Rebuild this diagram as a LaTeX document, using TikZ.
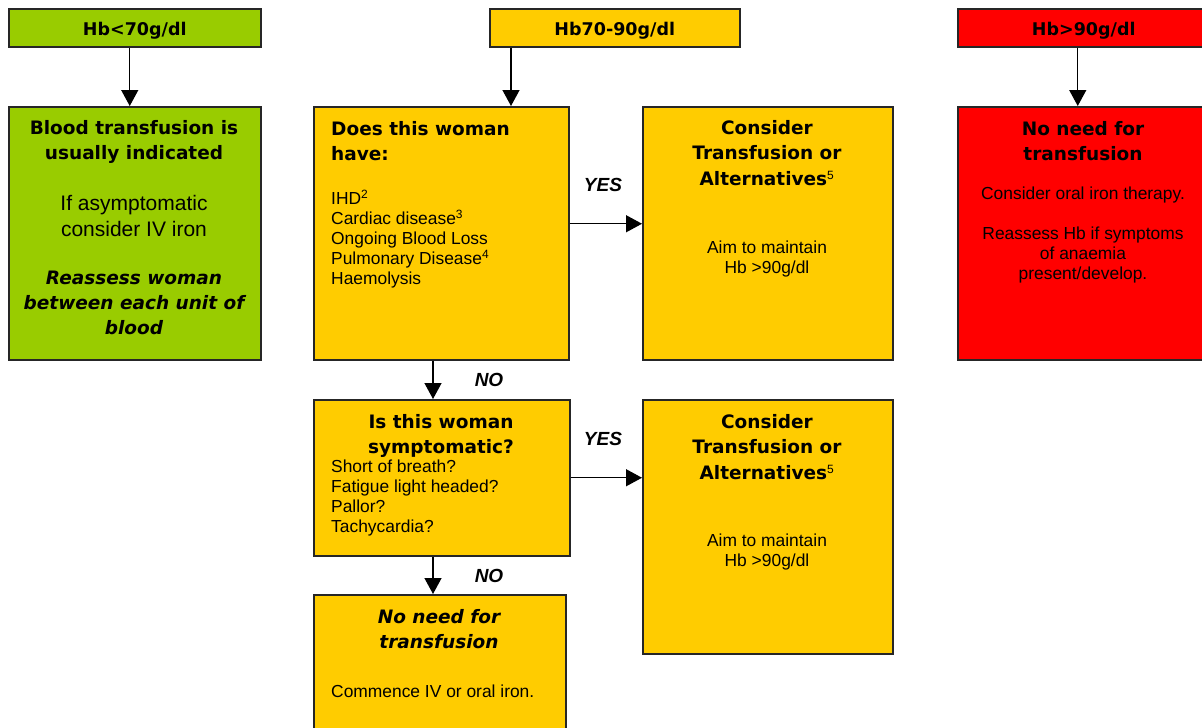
\documentclass[tikz,border=0pt]{standalone}
\usepackage{fontspec}
\setmainfont{Liberation Sans}
\newfontfamily\dvs{DejaVu Sans}
\usetikzlibrary{arrows.meta}
\definecolor{grn}{HTML}{99CC00}
\definecolor{yel}{HTML}{FFCC00}
\definecolor{rd}{HTML}{FF0000}
\newcommand\fnmark[1]{\textsuperscript{\normalfont\fontsize{12}{12}\selectfont #1}}
\tikzset{
  box/.style={draw=black!85, line width=1.5pt, anchor=north west, inner sep=0pt},
  arr/.style={line width=1.3pt, -{Triangle[width=17pt,length=16pt]}},
  hfont/.style={font=\dvs\bfseries\fontsize{17.5}{21}\selectfont},
  tfont/.style={font=\dvs\bfseries\fontsize{18.5}{25.5}\selectfont, align=center, inner sep=0pt},
  tlfont/.style={font=\dvs\bfseries\fontsize{18.5}{25.5}\selectfont, align=left, inner sep=0pt},
  tifont/.style={font=\dvs\bfseries\itshape\fontsize{18.5}{25}\selectfont, align=center, inner sep=0pt},
  sfont/.style={font=\fontsize{17.4}{20}\selectfont, align=left, inner sep=0pt},
  scfont/.style={font=\fontsize{17.4}{20}\selectfont, align=center, inner sep=0pt},
  gfont/.style={font=\fontsize{21}{26}\selectfont, align=center, inner sep=0pt},
  lab/.style={font=\bfseries\itshape\fontsize{19}{22}\selectfont, inner sep=0pt},
}
\begin{document}
\begin{tikzpicture}[x=1pt,y=-1pt]
\useasboundingbox (0,0) rectangle (1202,728);
\clip (0,0) rectangle (1202,728);
% header boxes
\node[box, fill=grn, minimum width=252pt, minimum height=38pt] (h1) at (8,8) {};
\node[box, fill=yel, minimum width=250pt, minimum height=38pt] (h2) at (489,8) {};
\node[box, fill=rd, minimum width=252pt, minimum height=38pt] (h3) at (957,8) {};
\node[hfont] (h1t) at ([yshift=-3pt]h1.center) {Hb<70g/dl};
\node[hfont] (h2t) at ([yshift=-3pt]h2.center) {Hb70-90g/dl};
\node[hfont] (h3t) at ([yshift=-3pt]h3.center) {Hb>90g/dl};
% main boxes
\node[box, fill=grn, minimum width=252pt, minimum height=253pt] (g) at (8,106) {};
\node[box, fill=yel, minimum width=255pt, minimum height=253pt] (A) at (313,106) {};
\node[box, fill=yel, minimum width=250pt, minimum height=253pt] (B) at (642,106) {};
\node[box, fill=rd, minimum width=252pt, minimum height=253pt] (R) at (957,106) {};
\node[box, fill=yel, minimum width=256pt, minimum height=156pt] (C) at (313,399) {};
\node[box, fill=yel, minimum width=250pt, minimum height=254pt] (D) at (642,399) {};
\node[box, fill=yel, minimum width=252pt, minimum height=150pt] (E) at (313,594) {};
% green box text
\node[tfont] (gt) at (134,142) {Blood transfusion is\\usually indicated};
\node[gfont] (gb) at (134,216) {If asymptomatic\\consider IV iron};
\node[tifont] (gi) at (134,303) {Reassess woman\\between each unit of\\blood};
% box A
\node[tlfont, anchor=west] (At) at (331,141) {Does this woman\\have:};
\node[sfont, anchor=north west] (Al) at (331,190) {IHD\fnmark{2}\\Cardiac disease\fnmark{3}\\Ongoing Blood Loss\\Pulmonary Disease\fnmark{4}\\Haemolysis};
% box B
\node[tfont] (Bt) at (767,153) {Consider\\Transfusion or\\Alternatives\fnmark{5}};
\node[scfont] (Bb) at (767,259) {Aim to maintain\\Hb >90g/dl};
% red box
\node[tfont] (Rt) at (1083,141) {No need for\\transfusion};
\node[scfont] (Rb) at (1083,235) {Consider oral iron therapy.\\[20pt]Reassess Hb if symptoms\\of anaemia\\present/develop.};
% box C
\node[tfont] (Ct) at (441,436) {Is this woman\\symptomatic?};
\node[sfont, anchor=north west] (Cl) at (331,460) {Short of breath?\\Fatigue light headed?\\Pallor?\\Tachycardia?};
% box D
\node[tfont] (Dt) at (767,447) {Consider\\Transfusion or\\Alternatives\fnmark{5}};
\node[scfont] (Db) at (767,552) {Aim to maintain\\Hb >90g/dl};
% box E
\node[tifont] (Et) at (439,629.5) {No need for\\transfusion};
\node[sfont, anchor=west] (Eb) at (331,691) {Commence IV or oral iron.};
% connectors
\draw[arr] ([xshift=-5pt]h1.south) -- ([xshift=-5pt]h1.south |- g.north);
\draw[arr] ([xshift=22pt]h2.south west) -- ([xshift=22pt]h2.south west |- A.north);
\draw[arr] ([xshift=-6pt]h3.south) -- ([xshift=-6pt]h3.south |- R.north);
\draw[arr] ([yshift=9.5pt]A.east) -- ([yshift=9.5pt]A.east -| B.west);
\draw[arr] ([xshift=120pt]A.south west) -- ([xshift=120pt]A.south west |- C.north);
\draw[arr] (C.east) -- (C.east -| D.west);
\draw[arr] ([xshift=120pt]C.south west) -- ([xshift=120pt]C.south west |- E.north);
% labels
\node[lab] (y1) at (603,185) {YES};
\node[lab] (y2) at (603,439) {YES};
\node[lab] (n1) at (489,380) {NO};
\node[lab] (n2) at (489,576) {NO};
\end{tikzpicture}
\end{document}
